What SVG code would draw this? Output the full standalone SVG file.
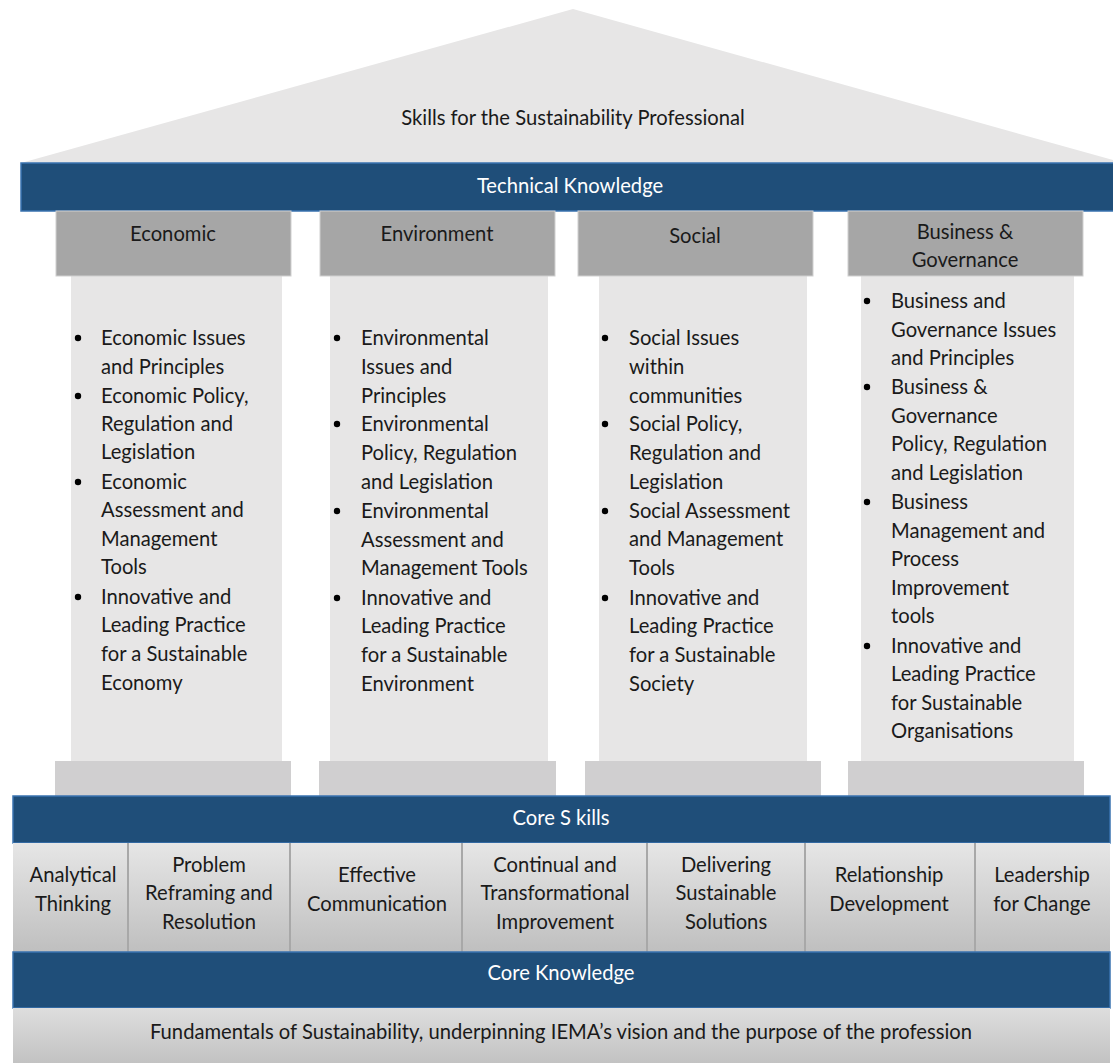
<svg xmlns="http://www.w3.org/2000/svg" width="1113" height="1063" viewBox="0 0 1113 1063">
  <defs>
    <linearGradient id="skillGrad" x1="0" y1="0" x2="0" y2="1">
      <stop offset="0" stop-color="#e6e6e6"/>
      <stop offset="1" stop-color="#bfbfbf"/>
    </linearGradient>
    <linearGradient id="baseGrad" x1="0" y1="0" x2="0" y2="1">
      <stop offset="0" stop-color="#dedede"/>
      <stop offset="1" stop-color="#c2c2c2"/>
    </linearGradient>
    <style>
      text { font-family: Lato, "Liberation Sans", sans-serif; font-size: 20.2px; fill: #1a1a1a; }
      .c { text-anchor: middle; }
      .w { fill: #ffffff; }
      .bar { fill: #1f4e79; stroke: #3a73b0; stroke-width: 1.5; }
      .cap { fill: #a6a6a6; stroke: #d0d0d0; stroke-width: 1; }
      .shaft { fill: #e7e6e6; }
      .base { fill: #d0cfd0; }
      .cell { fill: url(#skillGrad); }
      .div { stroke: #a8a8a8; stroke-width: 2; }
      .dot { fill: #000000; }
    </style>
  </defs>

  <!-- roof -->
  <g id="roof">
    <polygon points="21,163 573,9 1113,160 1113,163" fill="#e7e6e6"/>
    <text class="c" x="573" y="125">Skills for the Sustainability Professional</text>
  </g>

  <!-- technical knowledge beam -->
  <g id="technical-knowledge">
    <rect class="bar" x="21" y="163" width="1095" height="48"/>
    <text class="c w" x="570" y="193">Technical Knowledge</text>
  </g>

  <!-- pillar: economic -->
  <g id="pillar-economic">
    <rect class="shaft" x="71" y="276" width="211" height="486"/>
    <rect class="cap" x="56" y="211" width="235" height="65"/>
    <rect class="base" x="55" y="761" width="236" height="36"/>
    <text class="c" x="173" y="241">Economic</text>
    <circle class="dot" cx="78" cy="338" r="3.2"/>
    <circle class="dot" cx="78" cy="396" r="3.2"/>
    <circle class="dot" cx="78" cy="482" r="3.2"/>
    <circle class="dot" cx="78" cy="597" r="3.2"/>
    <text x="101">
      <tspan x="101" y="345">Economic Issues</tspan>
      <tspan x="101" y="374">and Principles</tspan>
      <tspan x="101" y="403">Economic Policy,</tspan>
      <tspan x="101" y="431">Regulation and</tspan>
      <tspan x="101" y="459">Legislation</tspan>
      <tspan x="101" y="489">Economic</tspan>
      <tspan x="101" y="517">Assessment and</tspan>
      <tspan x="101" y="546">Management</tspan>
      <tspan x="101" y="574">Tools</tspan>
      <tspan x="101" y="604">Innovative and</tspan>
      <tspan x="101" y="632">Leading Practice</tspan>
      <tspan x="101" y="661">for a Sustainable</tspan>
      <tspan x="101" y="690">Economy</tspan>
    </text>
  </g>

  <!-- pillar: environment -->
  <g id="pillar-environment">
    <rect class="shaft" x="330" y="276" width="218" height="486"/>
    <rect class="cap" x="320" y="211" width="235" height="65"/>
    <rect class="base" x="319" y="761" width="237" height="36"/>
    <text class="c" x="437" y="241">Environment</text>
    <circle class="dot" cx="337" cy="338" r="3.2"/>
    <circle class="dot" cx="337" cy="424" r="3.2"/>
    <circle class="dot" cx="337" cy="511" r="3.2"/>
    <circle class="dot" cx="337" cy="598" r="3.2"/>
    <text x="361">
      <tspan x="361" y="345">Environmental</tspan>
      <tspan x="361" y="374">Issues and</tspan>
      <tspan x="361" y="403">Principles</tspan>
      <tspan x="361" y="431">Environmental</tspan>
      <tspan x="361" y="460">Policy, Regulation</tspan>
      <tspan x="361" y="489">and Legislation</tspan>
      <tspan x="361" y="518">Environmental</tspan>
      <tspan x="361" y="547">Assessment and</tspan>
      <tspan x="361" y="575">Management Tools</tspan>
      <tspan x="361" y="605">Innovative and</tspan>
      <tspan x="361" y="633">Leading Practice</tspan>
      <tspan x="361" y="662">for a Sustainable</tspan>
      <tspan x="361" y="691">Environment</tspan>
    </text>
  </g>

  <!-- pillar: social -->
  <g id="pillar-social">
    <rect class="shaft" x="599" y="276" width="208" height="486"/>
    <rect class="cap" x="578" y="211" width="235" height="65"/>
    <rect class="base" x="585" y="761" width="236" height="36"/>
    <text class="c" x="695" y="243">Social</text>
    <circle class="dot" cx="605" cy="338" r="3.2"/>
    <circle class="dot" cx="605" cy="424" r="3.2"/>
    <circle class="dot" cx="605" cy="511" r="3.2"/>
    <circle class="dot" cx="605" cy="598" r="3.2"/>
    <text x="629">
      <tspan x="629" y="345">Social Issues</tspan>
      <tspan x="629" y="374">within</tspan>
      <tspan x="629" y="403">communities</tspan>
      <tspan x="629" y="431">Social Policy,</tspan>
      <tspan x="629" y="460">Regulation and</tspan>
      <tspan x="629" y="489">Legislation</tspan>
      <tspan x="629" y="518">Social Assessment</tspan>
      <tspan x="629" y="546">and Management</tspan>
      <tspan x="629" y="575">Tools</tspan>
      <tspan x="629" y="605">Innovative and</tspan>
      <tspan x="629" y="633">Leading Practice</tspan>
      <tspan x="629" y="662">for a Sustainable</tspan>
      <tspan x="629" y="691">Society</tspan>
    </text>
  </g>

  <!-- pillar: business & governance -->
  <g id="pillar-business">
    <rect class="shaft" x="861" y="276" width="213" height="486"/>
    <rect class="cap" x="848" y="211" width="235" height="65"/>
    <rect class="base" x="848" y="761" width="236" height="36"/>
    <text class="c" x="965" y="239">Business &amp;</text>
    <text class="c" x="965" y="267">Governance</text>
    <circle class="dot" cx="867" cy="301" r="3.2"/>
    <circle class="dot" cx="867" cy="387" r="3.2"/>
    <circle class="dot" cx="867" cy="502" r="3.2"/>
    <circle class="dot" cx="867" cy="646" r="3.2"/>
    <text x="891">
      <tspan x="891" y="308">Business and</tspan>
      <tspan x="891" y="337">Governance Issues</tspan>
      <tspan x="891" y="365">and Principles</tspan>
      <tspan x="891" y="394">Business &amp;</tspan>
      <tspan x="891" y="423">Governance</tspan>
      <tspan x="891" y="451">Policy, Regulation</tspan>
      <tspan x="891" y="480">and Legislation</tspan>
      <tspan x="891" y="509">Business</tspan>
      <tspan x="891" y="538">Management and</tspan>
      <tspan x="891" y="566">Process</tspan>
      <tspan x="891" y="595">Improvement</tspan>
      <tspan x="891" y="623">tools</tspan>
      <tspan x="891" y="653">Innovative and</tspan>
      <tspan x="891" y="681">Leading Practice</tspan>
      <tspan x="891" y="710">for Sustainable</tspan>
      <tspan x="891" y="738">Organisations</tspan>
    </text>
  </g>

  <!-- core skills beam -->
  <g id="core-skills">
    <rect class="bar" x="13" y="796" width="1097" height="47"/>
    <text class="c w" x="561" y="825">Core S kills</text>
  </g>

  <!-- core skills row -->
  <g id="skills-row">
    <rect class="cell" x="13" y="843" width="1097" height="109"/>
    <line class="div" x1="128" y1="843" x2="128" y2="952"/>
    <line class="div" x1="290" y1="843" x2="290" y2="952"/>
    <line class="div" x1="462" y1="843" x2="462" y2="952"/>
    <line class="div" x1="647" y1="843" x2="647" y2="952"/>
    <line class="div" x1="805" y1="843" x2="805" y2="952"/>
    <line class="div" x1="975" y1="843" x2="975" y2="952"/>
  </g>
  <g id="skill-analytical">
    <text class="c" x="73" y="882">Analytical</text>
    <text class="c" x="73" y="911">Thinking</text>
  </g>
  <g id="skill-problem">
    <text class="c" x="209" y="872">Problem</text>
    <text class="c" x="209" y="900">Reframing and</text>
    <text class="c" x="209" y="929">Resolution</text>
  </g>
  <g id="skill-communication">
    <text class="c" x="377" y="882">Effective</text>
    <text class="c" x="377" y="911">Communication</text>
  </g>
  <g id="skill-improvement">
    <text class="c" x="555" y="872">Continual and</text>
    <text class="c" x="555" y="900">Transformational</text>
    <text class="c" x="555" y="929">Improvement</text>
  </g>
  <g id="skill-solutions">
    <text class="c" x="726" y="872">Delivering</text>
    <text class="c" x="726" y="900">Sustainable</text>
    <text class="c" x="726" y="929">Solutions</text>
  </g>
  <g id="skill-relationship">
    <text class="c" x="889" y="882">Relationship</text>
    <text class="c" x="889" y="911">Development</text>
  </g>
  <g id="skill-leadership">
    <text class="c" x="1042" y="882">Leadership</text>
    <text class="c" x="1042" y="911">for Change</text>
  </g>

  <!-- core knowledge beam -->
  <g id="core-knowledge">
    <rect class="bar" x="13" y="952" width="1097" height="56"/>
    <text class="c w" x="561" y="980">Core Knowledge</text>
  </g>

  <!-- foundation -->
  <g id="foundation">
    <rect x="13" y="1008" width="1097" height="56" fill="url(#baseGrad)"/>
    <text class="c" x="561" y="1039">Fundamentals of Sustainability, underpinning IEMA’s vision and the purpose of the profession</text>
  </g>
</svg>
